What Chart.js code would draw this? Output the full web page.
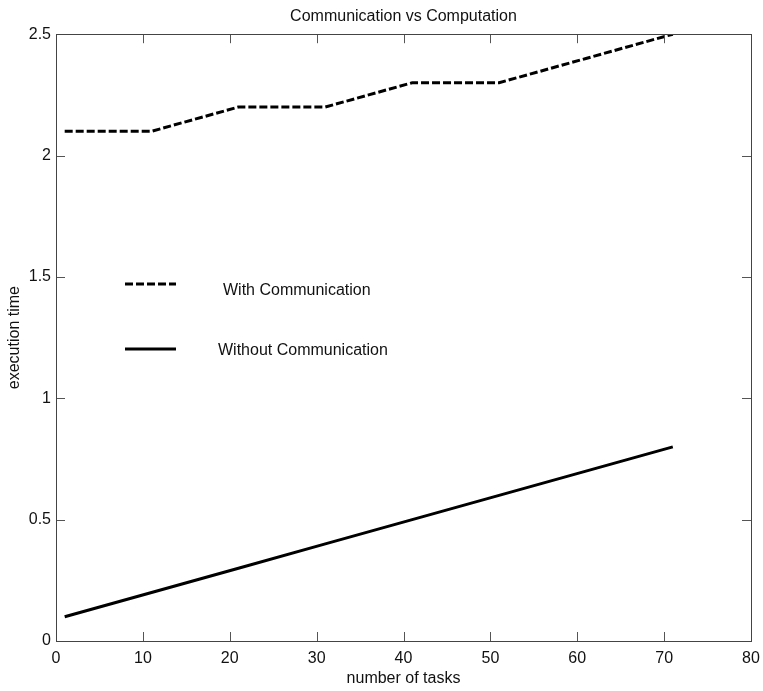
<!DOCTYPE html>
<html>
<head>
<meta charset="utf-8">
<script src="https://cdn.jsdelivr.net/npm/chart.js@4/dist/chart.umd.min.js"></script>
<style>
  html, body { margin: 0; padding: 0; background: #fff; }
  canvas { display: block; }
</style>
</head>
<body>
<canvas id="grafico" width="763" height="691"></canvas>
<script>
// datos
const numTareas = [1, 11, 21, 31, 41, 51, 61, 71];
const conComunicacion = [2.1, 2.1, 2.2, 2.2, 2.3, 2.3, 2.4, 2.5];
const sinComunicacion = [0.1, 0.2, 0.3, 0.4, 0.5, 0.6, 0.7, 0.8];
const ticksX = [0, 10, 20, 30, 40, 50, 60, 70, 80];
const ticksY = [0, 0.5, 1, 1.5, 2, 2.5];
const etiquetasY = ['0', '0.5', '1', '1.5', '2', '2.5'];

const fuente = "'Liberation Sans', Arial, sans-serif";

// marco y marcas hacia adentro en los cuatro lados
const marcoPlugin = {
    id: 'marco',
    afterDraw(chart) {
        const { ctx, chartArea: a, scales } = chart;
        const largo = 9;
        ctx.save();
        ctx.strokeStyle = '#555';
        ctx.lineWidth = 1;
        ticksX.forEach(v => {
            const x = Math.round(scales.x.getPixelForValue(v)) + 0.5;
            ctx.beginPath();
            ctx.moveTo(x, a.bottom); ctx.lineTo(x, a.bottom - largo);
            ctx.moveTo(x, a.top); ctx.lineTo(x, a.top + largo);
            ctx.stroke();
        });
        ticksY.forEach(v => {
            const y = Math.round(scales.y.getPixelForValue(v)) + 0.5;
            ctx.beginPath();
            ctx.moveTo(a.left, y); ctx.lineTo(a.left + largo, y);
            ctx.moveTo(a.right, y); ctx.lineTo(a.right - largo, y);
            ctx.stroke();
        });
        ctx.strokeStyle = '#444';
        ctx.strokeRect(Math.round(a.left) + 0.5, Math.round(a.top) + 0.5,
            Math.round(a.right - a.left), Math.round(a.bottom - a.top));
        ctx.restore();
    }
};

// leyenda dibujada dentro del area, como en el original
const leyendaPlugin = {
    id: 'leyendaDentro',
    afterDraw(chart) {
        const { ctx } = chart;
        const filas = [
            { ly: 284, ty: 291, tx: 223 },
            { ly: 349, ty: 351, tx: 218 }
        ];
        ctx.save();
        chart.data.datasets.forEach((ds, i) => {
            const f = filas[i];
            ctx.strokeStyle = ds.borderColor;
            ctx.lineWidth = ds.borderWidth;
            ctx.setLineDash(ds.borderDash || []);
            ctx.beginPath();
            ctx.moveTo(125, f.ly);
            ctx.lineTo(176, f.ly);
            ctx.stroke();
            ctx.setLineDash([]);
            ctx.fillStyle = '#111';
            ctx.font = '16px ' + fuente;
            ctx.textBaseline = 'middle';
            ctx.fillText(ds.label, f.tx, f.ty);
        });
        ctx.restore();
    }
};

const grafico = new Chart(document.getElementById('grafico'), {
    type: 'line',
    data: {
        datasets: [
            {
                label: 'With Communication',
                data: numTareas.map((x, i) => ({ x: x, y: conComunicacion[i] })),
                borderColor: '#000',
                borderWidth: 3,
                borderDash: [8, 3],
                pointRadius: 0,
                tension: 0
            },
            {
                label: 'Without Communication',
                data: numTareas.map((x, i) => ({ x: x, y: sinComunicacion[i] })),
                borderColor: '#000',
                borderWidth: 3,
                pointRadius: 0,
                tension: 0
            }
        ]
    },
    options: {
        responsive: false,
        animation: false,
        layout: { padding: { left: 0, right: 12, top: 0, bottom: 0 } },
        plugins: {
            legend: { display: false },
            tooltip: { enabled: false },
            title: {
                display: true,
                text: 'Communication vs Computation',
                fullSize: false,
                color: '#111',
                font: { family: fuente, size: 16, weight: 'normal' },
                padding: { top: 7, bottom: 8 }
            }
        },
        scales: {
            x: {
                type: 'linear',
                min: 0,
                max: 80,
                afterBuildTicks: s => { s.ticks = ticksX.map(v => ({ value: v })); },
                afterFit: s => { s.height = 50; s.paddingLeft = 0; s.paddingRight = 0; },
                grid: { display: false, drawTicks: false },
                border: { display: false },
                ticks: {
                    color: '#111',
                    padding: 8,
                    maxRotation: 0,
                    font: { family: fuente, size: 16 }
                },
                title: {
                    display: true,
                    text: 'number of tasks',
                    color: '#111',
                    font: { family: fuente, size: 16 },
                    padding: { top: 0, bottom: 3 }
                }
            },
            y: {
                min: 0,
                max: 2.5,
                afterBuildTicks: s => { s.ticks = ticksY.map(v => ({ value: v })); },
                afterFit: s => { s.width = 56; s.paddingTop = 0; s.paddingBottom = 0; },
                grid: { display: false, drawTicks: false },
                border: { display: false },
                ticks: {
                    color: '#111',
                    padding: 5,
                    font: { family: fuente, size: 16 },
                    callback: (v) => etiquetasY[ticksY.indexOf(v)]
                },
                title: {
                    display: true,
                    text: 'execution time',
                    color: '#111',
                    font: { family: fuente, size: 16 },
                    padding: { top: 5, bottom: 0 }
                }
            }
        }
    },
    plugins: [marcoPlugin, leyendaPlugin]
});
</script>
</body>
</html>
